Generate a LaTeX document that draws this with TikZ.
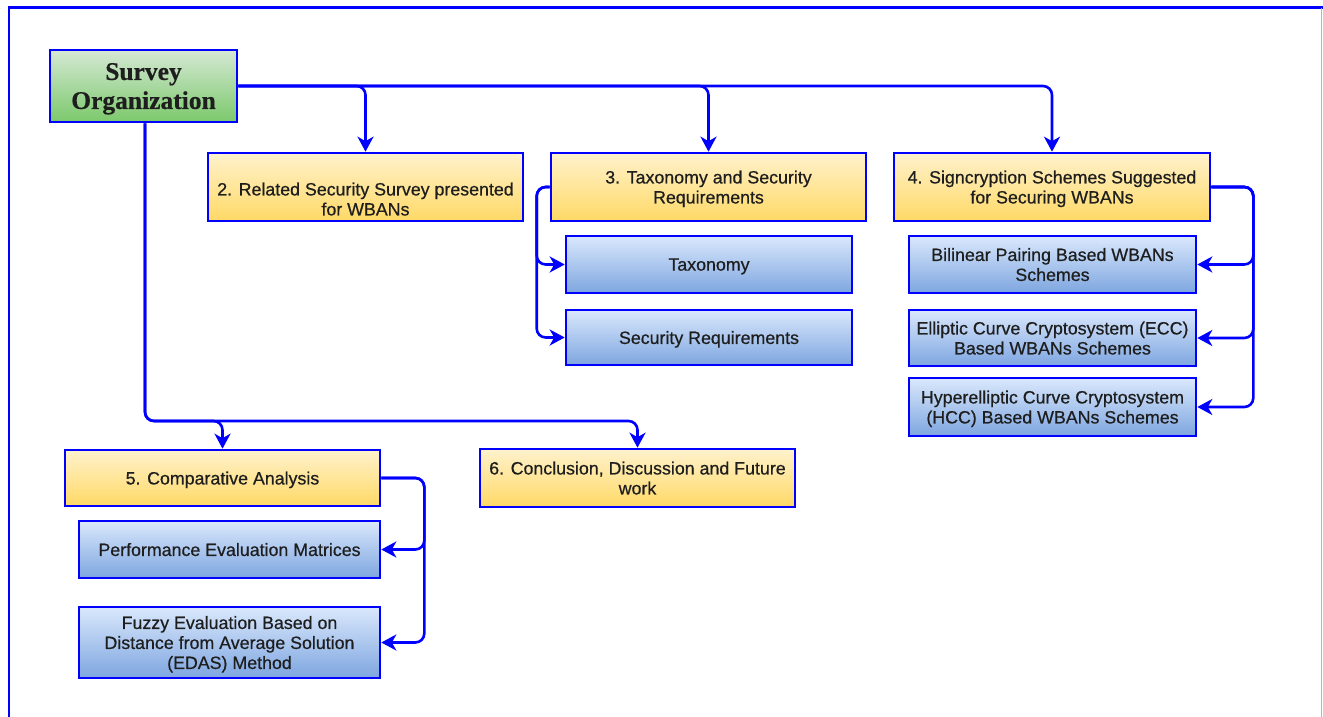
\documentclass[tikz,border=0pt]{standalone}
\usepackage{fontspec}
\setmainfont{Liberation Sans}
\newfontfamily\boxfont[FakeBold=0.6]{Liberation Sans}
\newfontfamily\headfont[FakeBold=0.5]{Liberation Serif Bold}
\usetikzlibrary{arrows.meta}
\definecolor{edgeblue}{HTML}{0000FF}
\definecolor{frameside}{HTML}{A8ACFF}
\definecolor{inktext}{HTML}{1E1E1E}
\definecolor{orangetop}{HTML}{FFF2CC}
\definecolor{orangebot}{HTML}{FFD966}
\definecolor{bluetop}{HTML}{DAE8FC}
\definecolor{bluebot}{HTML}{7EA6E0}
\definecolor{greentop}{HTML}{D5E8D4}
\definecolor{greenbot}{HTML}{7CC96C}
\tikzset{
  boxbase/.style={draw=edgeblue, line width=2.6pt, rectangle, inner sep=0pt,
    text=inktext, align=center, text depth=0pt,
    font=\boxfont\fontsize{17.8}{20}\selectfont},
  obox/.style={boxbase, top color=orangetop, bottom color=orangebot},
  bbox/.style={boxbase, top color=bluetop, bottom color=bluebot},
  gbox/.style={boxbase, top color=greentop, bottom color=greenbot,
    font=\headfont\fontsize{25.5}{29}\selectfont},
  boxtext/.style={text=inktext, align=center, inner sep=0pt, text depth=0pt,
    font=\boxfont\fontsize{17.8}{20}\selectfont},
  link/.style={draw=edgeblue, line width=2.6pt, rounded corners=9pt,
    -{Stealth[length=15pt,width=16pt,inset=4.5pt]}},
}
\begin{document}
\begin{tikzpicture}[x=1pt,y=-1pt]
\useasboundingbox (0,0) rectangle (1323,717);
% outer frame
\draw[edgeblue, line width=2.6pt] (9,717) -- (9,7.5) -- (1323,7.5);
\draw[frameside, line width=1.5pt] (1321.5,8) -- (1321.5,717);

% root
\node[gbox, minimum width=187pt, minimum height=72pt] (so) at (143.5,86) {Survey\\Organization};

% first level sections
\node[obox, minimum width=315pt, minimum height=68pt] (b2) at (365.5,187) {};
\node[boxtext] (b2text) at (365.5,199) {2. Related Security Survey presented\\for WBANs};
\node[obox, minimum width=315pt, minimum height=68pt] (b3) at (708.5,187) {3. Taxonomy and Security\\Requirements};
\node[obox, minimum width=316pt, minimum height=68pt] (b4) at (1052,187) {4. Signcryption Schemes Suggested\\for Securing WBANs};
\node[obox, minimum width=315pt, minimum height=56pt] (b5) at (222.5,478) {5. Comparative Analysis};
\node[obox, minimum width=315pt, minimum height=58pt] (b6) at (637.5,478) {6. Conclusion, Discussion and Future\\work};

% subsections
\node[bbox, minimum width=286pt, minimum height=57pt] (tax) at (709,264.5) {Taxonomy};
\node[bbox, minimum width=286pt, minimum height=55pt] (secr) at (709,337.5) {Security Requirements};
\node[bbox, minimum width=287pt, minimum height=57pt] (bil) at (1052.5,264.5) {Bilinear Pairing Based WBANs\\Schemes};
\node[bbox, minimum width=287pt, minimum height=56pt] (ecc) at (1052.5,338) {Elliptic Curve Cryptosystem (ECC)\\Based WBANs Schemes};
\node[bbox, minimum width=287pt, minimum height=58pt] (hcc) at (1052.5,407) {Hyperelliptic Curve Cryptosystem\\(HCC) Based WBANs Schemes};
\node[bbox, minimum width=301pt, minimum height=57pt] (perf) at (229.5,549.5) {Performance Evaluation Matrices};
\node[bbox, minimum width=301pt, minimum height=71pt] (fuzzy) at (229.5,642.5) {Fuzzy Evaluation Based on\\Distance from Average Solution\\(EDAS) Method};

% connectors from the root
\draw[link] (so.east) -| (b2.north);
\draw[link] (so.east) -| (b3.north);
\draw[link] (so.east) -| (b4.north);
\coordinate (down) at (145,421);
\draw[link] (so.south -| down) -- (down) -| (b5.north);
\draw[link] (so.south -| down) -- (down) -| (b6.north);

% connectors to subsections
\draw[link] (b3.west) -- ++(-13,0) |- (tax.west);
\draw[link] (b3.west) -- ++(-13,0) |- (secr.west);
\draw[link] (b4.east) -- ++(42,0) |- (bil.east);
\draw[link] (b4.east) -- ++(42,0) |- (ecc.east);
\draw[link] (b4.east) -- ++(42,0) |- (hcc.east);
\draw[link] (b5.east) -- ++(43,0) |- (perf.east);
\draw[link] (b5.east) -- ++(43,0) |- (fuzzy.east);
\end{tikzpicture}
\end{document}
